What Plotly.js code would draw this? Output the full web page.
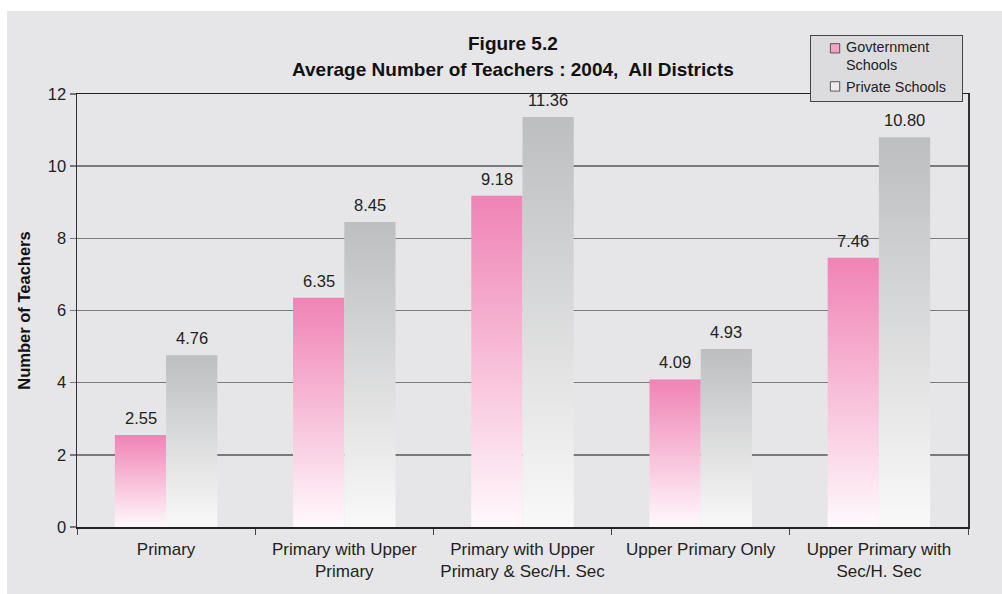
<!DOCTYPE html>
<html>
<head>
<meta charset="utf-8">
<script src="https://cdn.plot.ly/plotly-3.0.1.min.js"></script>
<style>
html,body{margin:0;padding:0;background:#ffffff;width:1002px;height:594px;overflow:hidden;}
#wrap{position:absolute;left:7px;top:11px;width:995px;height:583px;}
#chart{width:995px;height:583px;}
</style>
</head>
<body>
<div id="wrap"><div id="chart"></div></div>
<script>
const categories = [
  "Primary",
  "Primary with Upper<br>Primary",
  "Primary with Upper<br>Primary & Sec/H. Sec",
  "Upper Primary Only",
  "Upper Primary with<br>Sec/H. Sec"
];
const governmentSchools = [2.55, 6.35, 9.18, 4.09, 7.46];
const privateSchools = [4.76, 8.45, 11.36, 4.93, 10.80];
const seriesNames = ["Govternment<br>Schools", "Private Schools"];
const yTicks = [0, 2, 4, 6, 8, 10, 12];

const font = "Liberation Sans, Arial, sans-serif";

const traces = [
  {type:"bar", name:seriesNames[0], x:categories, y:governmentSchools,
   marker:{color:"#f5a8c8"}, hoverinfo:"none"},
  {type:"bar", name:seriesNames[1], x:categories, y:privateSchools,
   marker:{color:"#d8d9db"}, hoverinfo:"none"}
];

const shift = 25.6;
const annotations = [];
governmentSchools.forEach((v,i)=>annotations.push({x:categories[i], y:v, text:v.toFixed(2),
  xref:"x", yref:"y", showarrow:false, yanchor:"bottom", yshift:6, xshift:-shift,
  font:{family:font, size:16.5, color:"#222"}}));
privateSchools.forEach((v,i)=>annotations.push({x:categories[i], y:v, text:v.toFixed(2),
  xref:"x", yref:"y", showarrow:false, yanchor:"bottom", yshift:6, xshift:shift,
  font:{family:font, size:16.5, color:"#222"}}));
annotations.push({text:"<b>Figure 5.2</b>", xref:"paper", yref:"paper", x:0.489, y:1.1155,
  showarrow:false, yanchor:"middle", font:{family:font, size:19, color:"#111"}});
annotations.push({text:"<b>Average Number of Teachers : 2004,  All Districts</b>", xref:"paper", yref:"paper", x:0.489, y:1.0577,
  showarrow:false, yanchor:"middle", font:{family:font, size:19, color:"#111"}});

const layout = {
  width:995, height:583,
  paper_bgcolor:"#e6e6e8", plot_bgcolor:"#e6e6e8",
  margin:{l:70, r:34, t:83, b:67},
  barmode:"group", bargap:0.425, bargroupgap:0,
  showlegend:true,
  legend:{x:0.8227, y:1.136, xanchor:"left", yanchor:"top",
    bgcolor:"#dcdcde", bordercolor:"#444", borderwidth:1,
    font:{family:font, size:14.4, color:"#222"}, tracegroupgap:0, itemwidth:30},
  xaxis:{type:"category", showline:true, linecolor:"#222", linewidth:1.5, mirror:true,
    ticks:"outside", tickson:"boundaries", ticklen:6, tickcolor:"#444", tickwidth:1,
    ticklabelstandoff:6,
    tickfont:{family:font, size:17, color:"#222"}, showgrid:false, fixedrange:true},
  yaxis:{range:[0,12], tickvals:yTicks, ticktext:yTicks.map(String),
    showline:true, linecolor:"#333", linewidth:1.5, mirror:true,
    ticks:"outside", ticklen:6, tickcolor:"#777", tickwidth:1.5,
    showgrid:true, gridcolor:"#7a7a7a", gridwidth:1.5, zeroline:false,
    tickfont:{family:font, size:16.5, color:"#222"},
    title:{text:"<b>Number of Teachers</b>", standoff:13, font:{family:font, size:16.5, color:"#111"}},
    fixedrange:true},
  annotations:annotations
};

Plotly.newPlot("chart", traces, layout, {displayModeBar:false, staticPlot:true}).then(gd=>{
  const svgNS = "http://www.w3.org/2000/svg";
  const svg = gd.querySelector("svg.main-svg");
  let defs = svg.querySelector("defs");
  if(!defs){defs = document.createElementNS(svgNS,"defs"); svg.insertBefore(defs, svg.firstChild);}
  function grad(id, top, bottom){
    const g = document.createElementNS(svgNS,"linearGradient");
    g.setAttribute("id", id); g.setAttribute("x1","0"); g.setAttribute("y1","0");
    g.setAttribute("x2","0"); g.setAttribute("y2","1");
    const s1 = document.createElementNS(svgNS,"stop"); s1.setAttribute("offset","0"); s1.setAttribute("stop-color",top);
    const s2 = document.createElementNS(svgNS,"stop"); s2.setAttribute("offset","1"); s2.setAttribute("stop-color",bottom);
    g.appendChild(s1); g.appendChild(s2); defs.appendChild(g);
  }
  grad("gPink", "#f083b5", "#fff9fc");
  grad("gGray", "#bdbec0", "#f9f9f9");
  const barTraces = gd.querySelectorAll(".barlayer .trace.bars");
  barTraces.forEach((t,i)=>{
    t.querySelectorAll("path").forEach(p=>{ p.style.fill = i===0 ? "url(#gPink)" : "url(#gGray)"; });
  });
  // legend: compact symbols and text like the reference
  const legendPts = gd.querySelectorAll(".legend .traces .legendpoints");
  legendPts.forEach((g,i)=>{
    g.setAttribute("transform", i===0 ? "translate(24,-7)" : "translate(24,0)");
    g.querySelectorAll("path").forEach(p=>{
      p.style.fill = i===0 ? "#f5a0c6" : "#ececec";
      p.style.stroke = "#333"; p.style.strokeWidth = "1px";
      p.setAttribute("transform", "scale(0.78)");
    });
  });
  gd.querySelectorAll(".legend .traces text.legendtext").forEach(t=>{
    t.setAttribute("x", "35");
    t.querySelectorAll("tspan.line").forEach(s=>{ if(s.getAttribute("x")) s.setAttribute("x","35"); });
  });
  gd.querySelectorAll(".legend .traces").forEach(tr=>{
    const m = /translate\(\s*([-\d.]+)[ ,]+([-\d.]+)\s*\)/.exec(tr.getAttribute("transform")||"");
    if(m){ tr.setAttribute("transform", "translate(" + m[1] + "," + (parseFloat(m[2]) - 6) + ")"); }
  });
  const bg = gd.querySelector(".legend rect.bg");
  if(bg){ bg.setAttribute("width", "152"); bg.setAttribute("height", "66"); }
});
</script>
</body>
</html>
